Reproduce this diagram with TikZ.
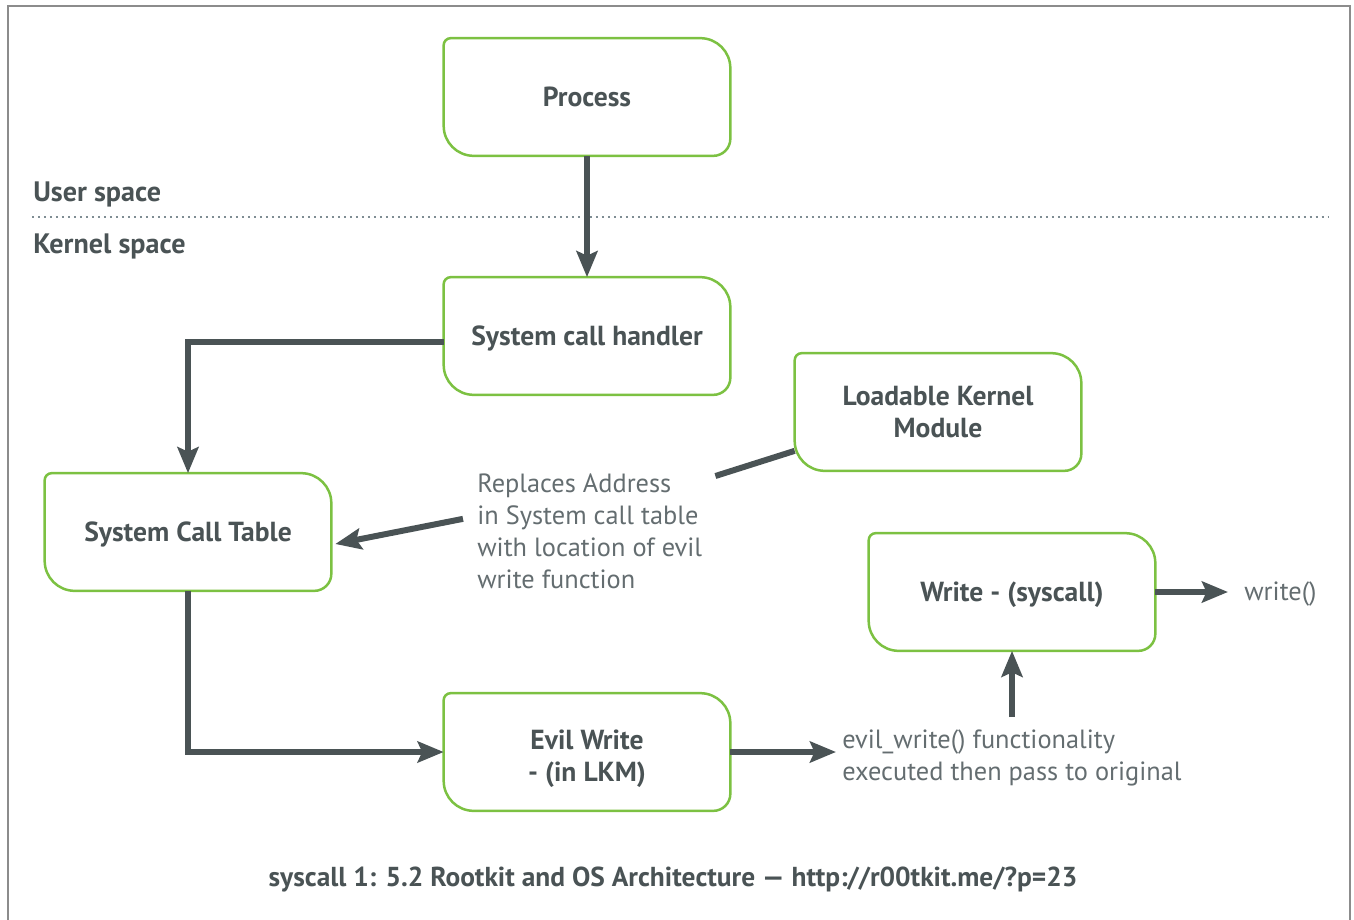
\documentclass[tikz,border=0pt]{standalone}
\usepackage{fontspec}
\setmainfont{PT Sans}
\usetikzlibrary{arrows.meta,positioning,calc}
\definecolor{leafgreen}{HTML}{7CC142}
\definecolor{slate}{HTML}{4A5355}
\definecolor{notegray}{HTML}{646D70}
\definecolor{framegray}{HTML}{8C8C8C}
\definecolor{dotblue}{HTML}{7F8D93}

% box outline: small top-left corner, large top-right and bottom-left
\newcommand{\leafbox}[1]{%
 \draw[leafgreen,line width=0.05cm] ([yshift=-0.14cm]#1.north west) arc[start angle=180,end angle=90,radius=0.14cm]
  -- ([xshift=-0.6cm]#1.north east) arc[start angle=90,end angle=0,radius=0.6cm]
  -- ([yshift=0.34cm]#1.south east) arc[start angle=0,end angle=-90,radius=0.34cm]
  -- ([xshift=0.6cm]#1.south west) arc[start angle=270,end angle=180,radius=0.6cm] -- cycle;}

\begin{document}
\begin{tikzpicture}[x=0.02cm,y=-0.02cm,>={Stealth[length=0.52cm,width=0.42cm,inset=0.09cm]},
 box/.style={minimum width=5.72cm,minimum height=2.34cm,inner sep=0pt,align=center,font=\fontsize{15.7}{18.2}\selectfont\bfseries,text=slate},
 oneline/.style={box,text depth=0pt},
 note/.style={align=left,anchor=north west,inner sep=0pt,font=\fontsize{15}{18.2}\selectfont,text=notegray},
 zone/.style={anchor=west,inner sep=0pt,font=\fontsize{16}{18}\selectfont\bfseries,text=slate},
 flow/.style={->,line width=0.12cm,draw=slate},
 link/.style={line width=0.12cm,draw=slate}]
\useasboundingbox (0,0) rectangle (1354,919);
\draw[framegray,line width=0.04cm] (8,930) -- (8,6) -- (1350,6) -- (1350,930);

% user / kernel boundary
\node[zone] (user) at (33,194) {User space};
\node[zone] (kernel) at (33,246) {Kernel space};
\draw[dotblue,line width=0.04cm,dash pattern=on 0.04cm off 0.08cm] (32,217) -- (1328,217);

\node[oneline] (process) at (587,97) {Process};
\node[oneline] (handler) at (587,336) {System call handler};
\node[oneline] (table) at (188,532) {System Call Table};
\node[box] (lkm) at (938,412) {Loadable Kernel\\Module};
\node[oneline] (write) at (1012,592) {Write - (syscall)};
\node[box] (evil) at (587,752) {\rule{0pt}{1.2em}Evil Write\\- (in LKM)};
\foreach \b in {process,handler,table,lkm,write,evil} \leafbox{\b};

\node[note] (swap) at (477,473) {Replaces Address\\in System call table\\with location of evil\\write function};
\node[note] (evilnote) at (842,729) {evil\_write() functionality\\executed then pass to original};
\node[note,anchor=west] (wout) at (1244,594) {write()};

\draw[flow] (process) -- (handler);
\draw[flow] ([yshift=-0.12cm]handler.west) -| (table.north);
\draw[link] ([yshift=0.4cm]lkm.south west) -- ([shift={(0.26cm,-0.06cm)}]swap.north east);
\draw[flow] ([shift={(-0.28cm,0.24cm)}]swap.west) -- ([shift={(0.08cm,-0.24cm)}]table.east);
\draw[flow] (table.south) |- (evil.west);
\draw[flow] (evil.east) -- ($(evil.east -| evilnote.west)+(-6,0)$);
\draw[flow] ($(write.south |- evilnote.north)+(0,-12)$) -- (write.south);
\draw[flow] (write.east) -- ($(write.east -| wout.west)+(-16,0)$);

\node[font=\fontsize{15.6}{18}\selectfont\bfseries,text=slate] (caption) at (673,880) {syscall 1: 5.2 Rootkit and OS Architecture — http://r00tkit.me/?p=23};
\end{tikzpicture}
\end{document}
